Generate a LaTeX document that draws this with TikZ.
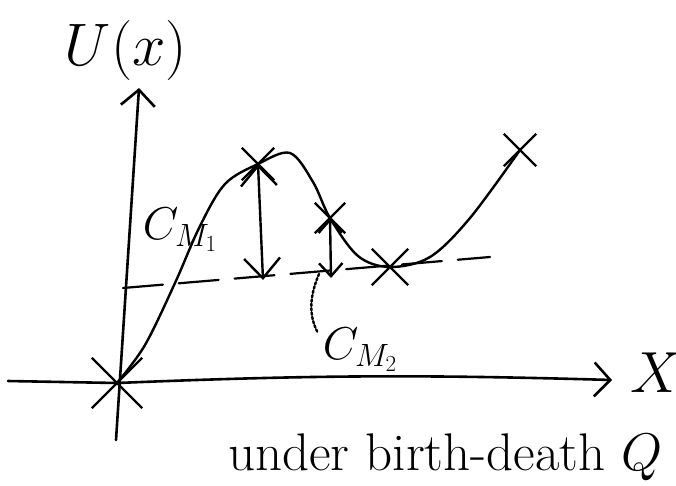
\RequirePackage{fix-cm}
\documentclass[tikz,border=0pt]{standalone}
\usetikzlibrary{arrows.meta,shapes.misc}
\begin{document}
\begin{tikzpicture}[x=1pt,y=-1pt,
  pen/.style={line width=2.6pt,line cap=round,line join=round},
  crossmk/.style={cross out,draw,line width=2.4pt,minimum size=#1,inner sep=0pt},
  bigbarb/.style={-{Straight Barb[length=16pt,width=34pt,line width=2.6pt]}},
  dblbarb/.style={{Straight Barb[length=#1,width=1.8*#1,line width=2.4pt]}-{Straight Barb[length=#1,width=1.8*#1,line width=2.4pt]}},
  lbl/.style={inner sep=0pt,font=\fontsize{#1}{#1}\selectfont}]
\useasboundingbox (0,0) rectangle (676,485);
% key points
\coordinate (o) at (117,383);
\node[crossmk=48pt] (m0) at (o) {};
\node[crossmk=30pt] (p1) at (258,164) {};
\node[crossmk=28pt] (p2) at (330,218) {};
\node[crossmk=34pt] (p3) at (390,267) {};
\node[crossmk=30pt] (p4) at (520,150) {};
% axes
\coordinate (xl) at (8,381);
\coordinate (xr) at (612,380);
\coordinate (yb) at (116,440);
\coordinate (yt) at (139,88);
\draw[pen] (xl) -- (o);
\draw[pen,bigbarb] (o) to[bend left=2] (xr);
\draw[pen,bigbarb] (yb) -- (yt);
% dashed level
\coordinate (d0) at (123,288);
\coordinate (d1) at (490,257);
\draw[pen,line width=2.2pt,dash pattern=on 40pt off 16pt] (d0) -- (d1);
% potential curve
\draw[pen,line width=2.4pt] plot[smooth,tension=0.55] coordinates {
 (117,383) (145,345) (175,283) (200,226) (225,184) (258,164) (290,153)
 (313,182) (330,218) (358,256) (390,267) (430,257) (470,218) (520,150)};
% barrier heights
\coordinate (b1) at (263,280);
\coordinate (b2) at (331,278);
\draw[pen,line width=2.4pt,dblbarb=20pt] (p1.center) -- (b1);
\draw[pen,line width=2.4pt,dblbarb=13pt] (p2.center) -- (b2);
\draw[line width=2.4pt,dotted,line cap=round] (319,274) .. controls (310,295) and (308,315) .. (318,333);
% labels
\node[lbl=60] (u) at (126,50) {$U(x)$};
\node[lbl=58] (xlab) at (656,373) {$X$};
\node[lbl=46] (c1) at (180,230) {$C_{M_1}$};
\node[lbl=46] (c2) at (360,350) {$C_{M_2}$};
\node[lbl=53,anchor=base west] (t) at (228,470) {under birth-death $Q$};
\end{tikzpicture}
\end{document}
